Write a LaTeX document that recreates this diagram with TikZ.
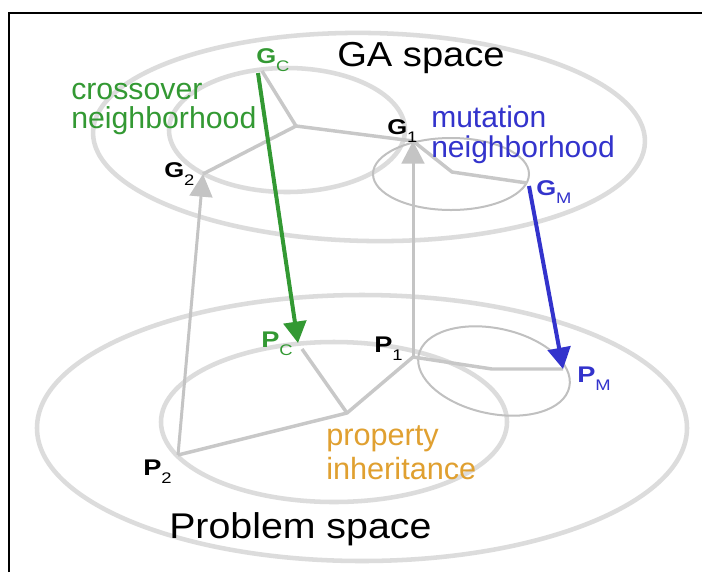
\documentclass[tikz,border=0pt]{standalone}
\usepackage{fontspec}
\setmainfont{Liberation Sans}[FakeStretch=1.2]
\newfontfamily\plainsans{Liberation Sans}
\newfontfamily\titlesans{Liberation Sans}[FakeStretch=1.1]
\usetikzlibrary{arrows.meta}
\definecolor{ellgray}{HTML}{DCDCDC}
\definecolor{lingray}{HTML}{C8C8C8}
\definecolor{mutgray}{HTML}{C0C0C0}
\definecolor{arrgray}{HTML}{C4C4C4}
\definecolor{xgreen}{HTML}{339933}
\definecolor{xblue}{HTML}{3333CC}
\definecolor{xorange}{HTML}{E0A030}
\newcommand\pointlabel[3]{{\fontsize{#3}{18}\selectfont\bfseries #1}\raisebox{-6pt}{\fontsize{11.5}{12}\selectfont #2}}
\begin{document}
\begin{tikzpicture}[x=0.75pt,y=-0.75pt,
  spaceell/.style={draw=ellgray,line width=3.4pt},
  mutell/.style={draw=mutgray,line width=1.5pt},
  link/.style={draw=lingray,line width=2.6pt,line join=round},
  maparrow/.style={draw=arrgray,line width=2.25pt,-{Triangle[length=17pt,width=17pt]}},
  colarrow/.style={line width=3pt,-{Triangle[length=16pt,width=17pt]}},
  ptlabel/.style={anchor=base west,inner sep=0pt},
  title/.style={anchor=base west,inner sep=0pt,font=\titlesans\fontsize{26}{30}\selectfont},
  note/.style={anchor=base west,inner sep=0pt,align=left}]
\useasboundingbox (0,0) rectangle (702,572);
\fill[white] (0,0) rectangle (702,572);
% frame
\draw[line width=1.3pt] (9,572) -- (9,13) -- (702,13);
% ellipses
\draw[spaceell,rotate around={-1:(369,137)}] (369,137) ellipse [x radius=207pt, y radius=78pt];
\draw[spaceell] (287,130) ellipse [x radius=88.5pt, y radius=46.5pt];
\draw[mutell] (451,174) ellipse [x radius=58.5pt, y radius=27pt];
\draw[spaceell] (362,428) ellipse [x radius=243.75pt, y radius=99.75pt];
\draw[spaceell] (334,422) ellipse [x radius=129.75pt, y radius=60pt];
\draw[mutell,rotate around={-12:(494,371)}] (494,371) ellipse [x radius=57.75pt, y radius=32pt];
% points
\coordinate (Gc) at (262,71);
\coordinate (Gcs) at (258,73);
\coordinate (J1) at (296,126);
\coordinate (G2) at (203,174);
\coordinate (G1) at (413,141);
\coordinate (K1) at (452,172);
\coordinate (GM) at (527,183);
\coordinate (GMs) at (529,186);
\coordinate (Pc) at (298,343);
\coordinate (Pcs) at (302,349);
\coordinate (J2) at (347,413);
\coordinate (P2) at (178,455);
\coordinate (P1) at (413,357);
\coordinate (K2) at (492,369);
\coordinate (PM) at (563,369);
% genotype links
\draw[link] (Gc) -- (J1) -- (G2);
\draw[link] (J1) -- (G1);
\draw[link] (G1) -- (K1) -- (GM);
% phenotype links
\draw[link] (Pcs) -- (J2) -- (P2);
\draw[link] (J2) -- (P1);
\draw[link] (P1) -- (K2) -- (PM);
% mapping arrows
\draw[maparrow] (P2) -- (G2);
\draw[maparrow] (P1) -- (G1);
\draw[colarrow,draw=xgreen,fill=xgreen] (Gcs) -- (Pc);
\draw[colarrow,draw=xblue,fill=xblue] (GMs) -- (PM);
% labels
\node[ptlabel,text=xgreen] (lGc) at (256,63) {\pointlabel{G}{C}{16}};
\node[ptlabel] (lG2) at (164,177) {\pointlabel{G}{2}{16}};
\node[ptlabel] (lG1) at (387,134) {\pointlabel{G}{1}{16}};
\node[ptlabel,text=xblue] (lGM) at (536,195) {\pointlabel{G}{M}{16}};
\node[ptlabel,text=xgreen] (lPc) at (261,347) {\pointlabel{P}{C}{17}};
\node[ptlabel] (lP1) at (374,352) {\pointlabel{P}{1}{17}};
\node[ptlabel] (lP2) at (143,475) {\pointlabel{P}{2}{17}};
\node[ptlabel,text=xblue] (lPM) at (577,382) {\pointlabel{P}{M}{17}};
% titles
\node[title] (ga) at (337,66) {GA space};
\node[title,font=\titlesans\fontsize{26.8}{30}\selectfont] (ps) at (169,538) {Problem space};
\node[note,text=xgreen,font=\plainsans\fontsize{22.7}{21.75}\selectfont] (cn) at (71,128) {crossover\\neighborhood};
\node[note,text=xblue,font=\plainsans\fontsize{22.5}{22.5}\selectfont] (mn) at (431,157) {mutation\\neighborhood};
\node[note,text=xorange,font=\plainsans\fontsize{23}{25.5}\selectfont] (pi) at (326,479) {property\\inheritance};
\end{tikzpicture}
\end{document}
